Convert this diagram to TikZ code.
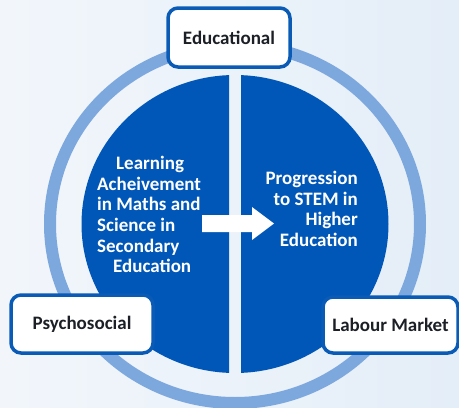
\documentclass[tikz,border=0pt]{standalone}
\usepackage{fontspec}
\setmainfont{Carlito}
\begin{document}
\definecolor{bgleft}{HTML}{F2F6FB}
\definecolor{bgright}{HTML}{E4EEF8}
\definecolor{discblue}{HTML}{0057B8}
\definecolor{ringblue}{HTML}{7DA8DE}
\definecolor{boxline}{HTML}{0A5BB5}
\definecolor{boxtext}{HTML}{1C2026}
\begin{tikzpicture}[x=1pt,y=-1pt,
  labelbox/.style={draw=boxline,line width=3.5pt,fill=white,rounded corners=10pt,
    inner sep=0pt,text=boxtext,font=\bfseries\fontsize{19}{21}\selectfont},
  disctext/.style={text=white,inner sep=0pt,font=\bfseries\fontsize{19}{20.6}\selectfont}]
  % background with a soft left-to-right tint
  \shade[left color=bgleft,right color=bgright] (0,0) rectangle (459,408);
  \useasboundingbox (0,0) rectangle (459,408);
  % outer ring
  \draw[ringblue,line width=12pt] (235,224) ellipse [x radius=185pt,y radius=179pt];
  % the disc, split into two halves by a narrow gap
  \begin{scope}
    \clip (0,0) rectangle (229,408);
    \fill[discblue] (235,224) ellipse [x radius=153.5pt,y radius=149pt];
  \end{scope}
  \begin{scope}
    \clip (241,0) rectangle (459,408);
    \fill[discblue] (235,224) ellipse [x radius=153.5pt,y radius=149pt];
  \end{scope}
  % texts inside the halves
  \node[disctext,align=left,anchor=west] (left) at (97,214.5)
    {\hspace*{19pt}Learning\\Acheivement\\in Maths and\\Science in\\Secondary\\\hspace*{16pt}Education};
  \node[disctext,align=right,anchor=east] (right) at (358,209)
    {Progression\\to STEM in\\Higher\hspace*{5pt}\\Education};
  % block arrow between the halves
  \fill[white] (202,215) -- (252,215) -- (252,207) -- (274,223.5) -- (252,240)
    -- (252,232) -- (202,232) -- cycle;
  % the three labels on the ring
  \node[labelbox,minimum width=122pt,minimum height=59pt] (edu) at (229,37.5) {Educational};
  \node[labelbox,minimum width=142pt,minimum height=58pt] (psy) at (82,324) {Psychosocial};
  \node[labelbox,minimum width=135pt,minimum height=56pt] (lab) at (390.5,325) {Labour Market};
\end{tikzpicture}
\end{document}
